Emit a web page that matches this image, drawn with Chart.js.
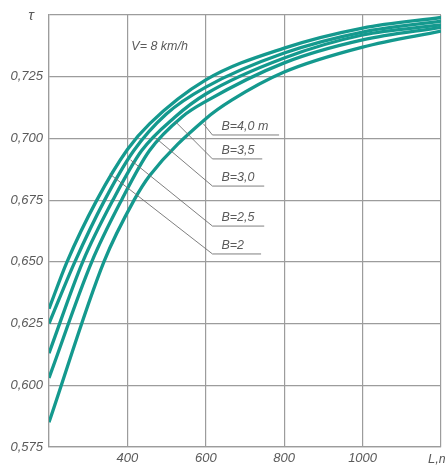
<!DOCTYPE html>
<html>
<head>
<meta charset="utf-8">
<script src="https://cdn.jsdelivr.net/npm/chart.js@4.4.1/dist/chart.umd.min.js"></script>
<style>
html,body{margin:0;padding:0;background:#fff;}
#wrap{width:445px;height:465px;position:relative;}
</style>
</head>
<body>
<div id="wrap"><canvas id="c" width="445" height="465"></canvas></div>
<script>
// Axis ticks
const xTicks = [200, 400, 600, 800, 1000, 1200];
const yTicks = [0.575, 0.600, 0.625, 0.650, 0.675, 0.700, 0.725, 0.750];

// Series: L (m) and tau values (top curve first)
const seriesNames = ['B=2', 'B=2,5', 'B=3,0', 'B=3,5', 'B=4,0 m'];
const L_B20 = [200, 246, 322, 400, 457, 600, 800, 1000, 1200];
const T_B20 = [0.631, 0.650, 0.675, 0.6955, 0.7060, 0.7237, 0.7366, 0.7447, 0.7490];
const L_B25 = [200, 266, 342, 416, 500, 600, 800, 1000, 1200];
const T_B25 = [0.625, 0.650, 0.675, 0.6950, 0.7100, 0.7208, 0.7346, 0.7431, 0.7475];
const L_B30 = [200, 286, 363, 436, 520, 600, 800, 1000, 1200];
const T_B30 = [0.613, 0.650, 0.675, 0.6950, 0.7085, 0.7180, 0.7326, 0.7419, 0.7460];
const L_B35 = [200, 309, 385, 456, 540, 600, 800, 1000, 1200];
const T_B35 = [0.603, 0.650, 0.675, 0.6950, 0.7088, 0.7150, 0.7306, 0.7399, 0.7450];
const L_B40 = [200, 340, 417, 457, 600, 667, 800, 1000, 1200];
const T_B40 = [0.585, 0.650, 0.675, 0.685, 0.7080, 0.7156, 0.7269, 0.7370, 0.7435];

// Annotation texts
const titleText = 'V= 8 km/h';
const yAxisTitle = 'τ';
const xAxisTitle = 'L,m';

const seriesL = [L_B20, L_B25, L_B30, L_B35, L_B40];
const seriesT = [T_B20, T_B25, T_B30, T_B35, T_B40];

const LINE = '#14998e';
const GRID = '#9c9c9c';
const TXT = '#5a5a5a';
const FONT = '"Liberation Sans", "DejaVu Sans", sans-serif';

const datasets = seriesNames.map((n, i) => ({
  label: n,
  data: seriesL[i].map((l, j) => ({x: l, y: seriesT[i][j]})),
  borderColor: LINE,
  borderWidth: 3.3,
  pointRadius: 0,
  fill: false,
  cubicInterpolationMode: 'monotone'
}));

// leader lines, in data coordinates: start (near curve) -> elbow -> end of underline
const leaders = [
  {text: 'B=4,0 m', from: [594, 0.7059], elbow: [617, 0.7014], end: [787, 0.7014]},
  {text: 'B=3,5',   from: [523, 0.7067], elbow: [617, 0.6917], end: [744, 0.6917]},
  {text: 'B=3,0',   from: [472, 0.7002], elbow: [617, 0.6807], end: [749, 0.6807]},
  {text: 'B=2,5',   from: [408, 0.6913], elbow: [617, 0.6645], end: [749, 0.6645]},
  {text: 'B=2',     from: [355, 0.6856], elbow: [617, 0.6532], end: [741, 0.6532]}
];

const annot = {
  id: 'annot',
  afterDatasetsDraw(chart) {
    const {ctx, scales: {x, y}} = chart;
    ctx.save();
    ctx.strokeStyle = '#707070';
    ctx.lineWidth = 0.9;
    ctx.fillStyle = TXT;
    ctx.font = 'italic 12.5px ' + FONT;
    ctx.textBaseline = 'alphabetic';
    ctx.textAlign = 'left';
    leaders.forEach(ld => {
      ctx.beginPath();
      ctx.moveTo(x.getPixelForValue(ld.from[0]), y.getPixelForValue(ld.from[1]));
      ctx.lineTo(x.getPixelForValue(ld.elbow[0]), y.getPixelForValue(ld.elbow[1]));
      ctx.lineTo(x.getPixelForValue(ld.end[0]), y.getPixelForValue(ld.end[1]));
      ctx.stroke();
      ctx.fillText(ld.text, x.getPixelForValue(ld.elbow[0]) + 9, y.getPixelForValue(ld.elbow[1]) - 5);
    });
    ctx.fillText(titleText, x.getPixelForValue(410), y.getPixelForValue(0.7375) + 4);
    // axis titles
    ctx.font = 'italic 15px ' + FONT;
    ctx.textAlign = 'center';
    ctx.fillText(yAxisTitle, 31, y.getPixelForValue(0.750) + 5);
    ctx.font = 'italic 13px ' + FONT;
    ctx.textAlign = 'left';
    ctx.fillText(xAxisTitle, x.getPixelForValue(1200) - 13, y.bottom + 16);
    ctx.restore();
  }
};

new Chart(document.getElementById('c'), {
  type: 'line',
  data: {datasets},
  options: {
    responsive: false,
    animation: false,
    layout: {padding: {top: 15, right: 3, left: 0, bottom: 0}},
    plugins: {legend: {display: false}, tooltip: {enabled: false}},
    scales: {
      x: {
        type: 'linear', min: 200, max: 1200,
        afterBuildTicks(s) { s.ticks = xTicks.map(v => ({value: v})); },
        afterFit(s) { s.height = 18; },
        grid: {color: GRID, lineWidth: 1.2, drawTicks: false},
        border: {color: GRID, width: 1.2},
        ticks: {
          color: TXT, padding: 4, maxRotation: 0, autoSkip: false,
          font: {family: FONT, size: 13, style: 'italic'},
          callback: v => (v === 200 || v === 1200) ? '' : String(v)
        }
      },
      y: {
        type: 'linear', min: 0.575, max: 0.750,
        afterBuildTicks(s) { s.ticks = yTicks.map(v => ({value: v})); },
        afterFit(s) { s.width = 49; },
        grid: {color: GRID, lineWidth: 1.2, drawTicks: false},
        border: {color: GRID, width: 1.2},
        ticks: {
          color: TXT, padding: 6, autoSkip: false,
          font: {family: FONT, size: 13, style: 'italic'},
          callback: v => Math.abs(v - 0.75) < 1e-9 ? '' : v.toFixed(3).replace('.', ',')
        }
      }
    }
  },
  plugins: [annot]
});
</script>
</body>
</html>
